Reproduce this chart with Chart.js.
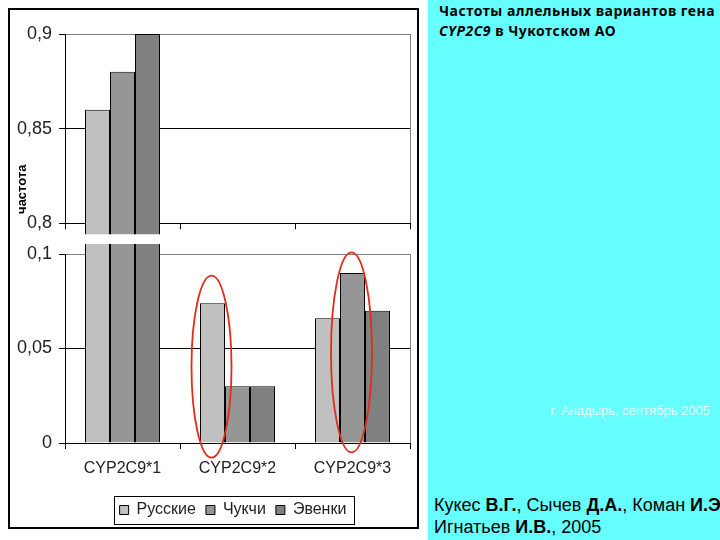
<!DOCTYPE html>
<html>
<head>
<meta charset="utf-8">
<script src="https://cdn.jsdelivr.net/npm/chart.js@4"></script>
<style>
    body { margin: 0; width: 720px; height: 540px; background: #fff; position: relative; overflow: hidden; font-family: 'Liberation Sans', Arial, sans-serif; }
    #frame { position: absolute; left: 8px; top: 8px; width: 407px; height: 517px; border: 2px solid #000; }
    #upperChart, #lowerChart { position: absolute; left: 10px; }
    #upperChart { top: 10px; }
    #lowerChart { top: 236px; }
    #side { position: absolute; left: 428px; top: 0; width: 292px; height: 540px; background: #66ffff; overflow: hidden; }
    #side .title { position: absolute; left: 11px; top: 1px; font: bold 14px 'Noto Sans', sans-serif; letter-spacing: 0.5px; line-height: 20px; color: #000; white-space: nowrap; }
    #side .place { position: absolute; right: 10px; top: 403px; font-size: 13px; color: #e8ffff; white-space: nowrap; }
    #side .authors { position: absolute; left: 6px; top: 494px; font-size: 18px; line-height: 22px; color: #000; white-space: nowrap; }
</style>
</head>
<body>
<div id="frame"></div>
<canvas id="upperChart" width="408" height="231"></canvas>
<canvas id="lowerChart" width="408" height="292"></canvas>
<div id="side">
    <div class="title">Частоты аллельных вариантов гена<br><i>CYP2C9</i> в Чукотском АО</div>
    <div class="place">г. Анадырь, сентябрь 2005</div>
    <div class="authors">Кукес <b>В.Г.</b>, Сычев <b>Д.А.</b>, Коман <b>И.Э</b><br>Игнатьев <b>И.В.</b>, 2005</div>
</div>
<script>
const categories = ['CYP2C9*1', 'CYP2C9*2', 'CYP2C9*3'];
const seriesNames = ['Русские', 'Чукчи', 'Эвенки'];
const russians = [0.86, 0.074, 0.066];
const chukchi = [0.88, 0.03, 0.09];
const evenki = [0.9, 0.03, 0.07];
const upperTicks = [0.8, 0.85, 0.9];
const lowerTicks = [0, 0.05, 0.1];

const seriesValues = [russians, chukchi, evenki];
const barColors = ['#c0c0c0', '#969696', '#808080'];
const plainFont = "'Liberation Sans', Arial, sans-serif";

// y axis shared by both halves of the broken axis
function valueAxis(ticks) {
    const top = ticks[ticks.length - 1];
    return {
        min: ticks[0],
        max: top,
        afterBuildTicks: s => { s.ticks = ticks.map(v => ({ value: v })); },
        afterFit: s => { s.width = 55; },
        border: { color: '#000', width: 1 },
        grid: {
            color: c => (c.tick && c.tick.value === top) ? '#808080' : '#000',
            tickColor: '#000',
            tickLength: 6
        },
        ticks: {
            padding: 7,
            color: '#222',
            font: { family: plainFont, size: 18 },
            callback: v => String(v).replace('.', ',')
        }
    };
}

// gray top/right border of the plot area
const plotFrame = {
    id: 'plotFrame',
    beforeDraw(chart) {
        const a = chart.chartArea, ctx = chart.ctx;
        ctx.save();
        ctx.strokeStyle = '#808080';
        ctx.lineWidth = 1;
        ctx.strokeRect(Math.round(a.left) + 0.5, Math.round(a.top) + 0.5, Math.round(a.right - a.left), Math.round(a.bottom - a.top));
        ctx.restore();
    }
};

const yTitle = {
    id: 'yTitle',
    afterDraw(chart) {
        const ctx = chart.ctx, a = chart.chartArea;
        ctx.save();
        ctx.translate(a.left - 43, a.bottom - 34);
        ctx.rotate(-Math.PI / 2);
        ctx.font = "bold 13px 'Liberation Sans', Arial, sans-serif";
        ctx.fillStyle = '#000';
        ctx.textAlign = 'center';
        ctx.textBaseline = 'middle';
        ctx.fillText('частота', 0, 0);
        ctx.restore();
    }
};

// legend sits a bit right of the canvas centre, inside a thin box
const legendBox = {
    id: 'legendBox',
    afterLayout(chart) {
        chart.legend.left += 23;
        chart.legend.right += 23;
    },
    afterDraw(chart) {
        const boxes = chart.legend.legendHitBoxes;
        if (!boxes || !boxes.length) return;
        const left = Math.min(...boxes.map(b => b.left)) - 6;
        const right = Math.max(...boxes.map(b => b.left + b.width)) + 7;
        const top = boxes[0].top - 6;
        const bottom = boxes[0].top + boxes[0].height + 6;
        const ctx = chart.ctx;
        ctx.save();
        ctx.strokeStyle = '#000';
        ctx.lineWidth = 1;
        ctx.strokeRect(Math.round(left) + 0.5, Math.round(top) + 0.5, Math.round(right - left), Math.round(bottom - top));
        ctx.restore();
    }
};

// red ovals around the highlighted bars
const highlights = {
    id: 'highlights',
    afterDraw(chart) {
        const marks = [
            { dataset: 0, index: 1, mid: 0.0404, rx: 20, ry: 91 },
            { dataset: 1, index: 2, mid: 0.0479, rx: 20.5, ry: 100 }
        ];
        const ctx = chart.ctx;
        ctx.save();
        ctx.strokeStyle = 'rgb(225, 45, 25)';
        ctx.lineWidth = 1.8;
        marks.forEach(m => {
            const bar = chart.getDatasetMeta(m.dataset).data[m.index];
            const y = chart.scales.y.getPixelForValue(m.mid);
            ctx.beginPath();
            ctx.ellipse(bar.x - 1, y, m.rx, m.ry, 0, 0, Math.PI * 2);
            ctx.stroke();
        });
        ctx.restore();
    }
};

function makeDatasets(upper) {
    return seriesNames.map((name, i) => ({
        label: name,
        data: upper ? seriesValues[i].map(v => v >= upperTicks[0] ? v : null) : seriesValues[i],
        backgroundColor: barColors[i],
        borderColor: '#000',
        borderWidth: 1,
        barPercentage: 1,
        categoryPercentage: 0.652,
        base: upper ? 0.794 : undefined,
        clip: upper ? false : { left: 0, top: 10, right: 0, bottom: 0 }
    }));
}

// Upper half: 0,8 - 0,9
new Chart(document.getElementById('upperChart').getContext('2d'), {
    type: 'bar',
    data: { labels: categories, datasets: makeDatasets(true) },
    options: {
        responsive: false,
        animation: false,
        layout: { padding: { top: 24, right: 8, left: 0, bottom: 0 } },
        plugins: { legend: { display: false }, tooltip: { enabled: false } },
        scales: {
            x: {
                offset: true,
                grid: { offset: true, drawOnChartArea: false, tickLength: 6, color: '#000' },
                border: { color: '#000' },
                ticks: { display: false },
                afterFit: s => { s.height = 14; }
            },
            y: valueAxis(upperTicks)
        }
    },
    plugins: [plotFrame, yTitle]
});

// Lower half: 0 - 0,1
new Chart(document.getElementById('lowerChart').getContext('2d'), {
    type: 'bar',
    data: { labels: categories, datasets: makeDatasets(false) },
    options: {
        responsive: false,
        animation: false,
        layout: { padding: { top: 18, right: 8, left: 0, bottom: 0 } },
        plugins: {
            tooltip: { enabled: false },
            legend: {
                position: 'bottom',
                labels: {
                    boxWidth: 9,
                    boxHeight: 9,
                    padding: 10,
                    color: '#222',
                    font: { family: plainFont, size: 16 }
                }
            }
        },
        scales: {
            x: {
                offset: true,
                grid: { offset: true, drawOnChartArea: false, tickLength: 6, color: '#000' },
                border: { color: '#000' },
                ticks: { padding: 10, color: '#222', maxRotation: 0, font: { family: plainFont, size: 16 } },
                afterFit: s => { s.height = 49; }
            },
            y: valueAxis(lowerTicks)
        }
    },
    plugins: [plotFrame, legendBox, highlights]
});
</script>
</body>
</html>
